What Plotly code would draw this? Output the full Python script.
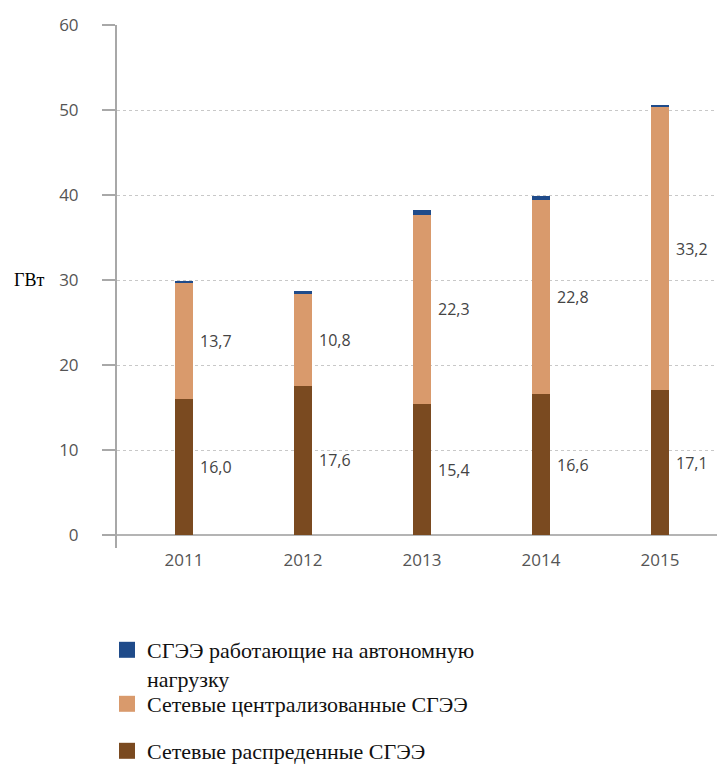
import plotly.graph_objects as go

# Installed capacity of solar power plants, GW
years = ["2011", "2012", "2013", "2014", "2015"]
distributed = [16.0, 17.6, 15.4, 16.6, 17.1]      # grid-connected distributed
centralized = [13.7, 10.8, 22.3, 22.8, 33.2]      # grid-connected centralized
autonomous = [0.1, 0.3, 0.5, 0.5, 0.3]            # off-grid

series_names = [
    "Сетевые распреденные СГЭЭ",
    "Сетевые централизованные СГЭЭ",
    "СГЭЭ работающие на автономную<br>нагрузку",
]
colors = ["#7a4a20", "#d99a6c", "#1f4b8a"]
y_ticks = [0, 10, 20, 30, 40, 50, 60]

BAR_W = 0.145
PLOT_L, PLOT_W = 117, 600
TICK_FONT = dict(family="Open Sans", size=17, color="#555555")
SERIF = '"Liberation Serif", "Times New Roman", serif'

fig = go.Figure()
legend_ids = ["legend3", "legend2", "legend"]
for vals, name, col, lg in zip([distributed, centralized, autonomous],
                               series_names, colors, legend_ids):
    fig.add_trace(go.Bar(
        x=list(range(len(years))), y=vals, name=name,
        marker=dict(color=col, line=dict(width=0)),
        width=BAR_W, showlegend=False, hoverinfo="skip",
    ))
    # square swatch for the legend entry
    fig.add_trace(go.Scatter(
        x=[None], y=[None], mode="markers", name=name, legend=lg,
        marker=dict(symbol="square", size=16, color=col),
        hoverinfo="skip",
    ))

# value labels to the right of the lower two segments
for i in range(len(years)):
    for base, val in [(0, distributed[i]), (distributed[i], centralized[i])]:
        fig.add_annotation(
            x=i + BAR_W / 2, y=base + val / 2, xref="x", yref="y",
            text=f"{val:.1f}".replace(".", ","), showarrow=False,
            xanchor="left", yanchor="middle", xshift=5,
            font=dict(family="Open Sans", size=16, color="#444444"),
        )

# unit label next to the value axis
fig.add_annotation(
    x=(12 - PLOT_L) / PLOT_W, y=30, xref="paper", yref="y", text="ГВт",
    showarrow=False, xanchor="left", yanchor="middle",
    font=dict(family=SERIF, size=18, color="#000000"),
)

legend_common = dict(
    xref="container", yref="container", xanchor="left", yanchor="top",
    bgcolor="rgba(0,0,0,0)", valign="top", itemsizing="trace",
    font=dict(family=SERIF, size=22, color="#111111"),
)
fig.update_layout(
    barmode="stack",
    width=717, height=765,
    margin=dict(l=PLOT_L, r=0, t=25, b=217, autoexpand=False),
    paper_bgcolor="white", plot_bgcolor="white",
    showlegend=True,
    legend=dict(x=107 / 717, y=1 - 629 / 765, **legend_common),
    legend2=dict(x=107 / 717, y=1 - 683 / 765, **legend_common),
    legend3=dict(x=107 / 717, y=1 - 730 / 765, **legend_common),
    xaxis=dict(
        range=[-0.563, 4.479], tickmode="array",
        tickvals=list(range(len(years))), ticktext=years,
        showgrid=False, showline=False, ticks="", zeroline=False,
        tickfont=TICK_FONT, fixedrange=True,
    ),
    yaxis=dict(
        range=[-1.5, 60], tickmode="array", tickvals=y_ticks,
        showgrid=True, gridcolor="#c8c8c8", griddash="dot", gridwidth=1,
        zeroline=True, zerolinecolor="#b4b4b4", zerolinewidth=2,
        showline=True, linecolor="#a8a8a8", linewidth=2,
        ticks="outside", ticklen=13, tickcolor="#a8a8a8", tickwidth=2,
        ticklabelstandoff=20, tickfont=TICK_FONT, fixedrange=True,
    ),
)

fig.write_html("out.html")
